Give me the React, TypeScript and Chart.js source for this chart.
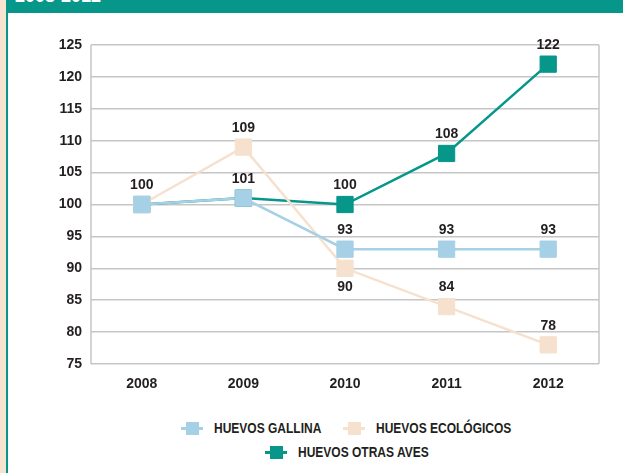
import React, { useEffect, useRef } from 'react';
import { Chart, registerables } from 'chart.js';

Chart.register(...registerables);

const years = ['2008', '2009', '2010', '2011', '2012'];
const gallina = [100, 101, 93, 93, 93];
const ecologicos = [100, 109, 90, 84, 78];
const otrasAves = [100, 101, 100, 108, 122];
const seriesNames = ['HUEVOS GALLINA', 'HUEVOS ECOLÓGICOS', 'HUEVOS OTRAS AVES'];
const yMin = 75;
const yMax = 125;
const yStep = 5;
const headerText = '2008-2012';

// which value labels are shown, and on which side of the point
const labelPlacement = [
  ['above', 'above', 'above', 'above', 'above'],
  ['none', 'above', 'below', 'above', 'above'],
  ['none', 'none', 'above', 'above', 'above'],
];

// legend item placement (marker left x, row top y) in page pixels
const legendSlots = [
  { x: 181, y: 421 },
  { x: 343, y: 421 },
  { x: 265, y: 445 },
];

const COLORS = ['#A5D0E6', '#F6E1CE', '#07968A'];
const TEXT = '#231F20';
const GRID = '#C6C6C6';
const NUM_FONT = '"Liberation Sans", Arial, sans-serif';

const labelsPlugin = {
  id: 'valueLabels',
  afterDatasetsDraw(chart: any) {
    const ctx = chart.ctx;
    ctx.save();
    ctx.font = `bold 14px ${NUM_FONT}`;
    ctx.fillStyle = TEXT;
    ctx.textAlign = 'center';
    ctx.textBaseline = 'middle';
    chart.data.datasets.forEach((ds: any, di: number) => {
      const meta = chart.getDatasetMeta(di);
      meta.data.forEach((pt: any, i: number) => {
        const pos = labelPlacement[di][i];
        if (pos === 'none') return;
        const dy = pos === 'above' ? -19 : 19;
        ctx.fillText(String(ds.data[i]), pt.x, pt.y + dy);
      });
    });
    ctx.restore();
  },
};

const framePlugin = {
  id: 'frame',
  beforeDatasetsDraw(chart: any) {
    const { ctx, chartArea } = chart;
    const { left, right, top, bottom } = chartArea;
    ctx.save();
    ctx.strokeStyle = GRID;
    ctx.lineWidth = 1.5;
    ctx.beginPath();
    ctx.moveTo(left, top);
    ctx.lineTo(left, bottom);
    ctx.moveTo(right, top);
    ctx.lineTo(right, bottom);
    ctx.stroke();
    ctx.restore();
  },
};

function LegendItem({ color, label, x, y }: { color: string; label: string; x: number; y: number }) {
  return (
    <div style={{ position: 'absolute', left: x, top: y, height: 14, display: 'flex', alignItems: 'center' }}>
      <div style={{ position: 'relative', width: 22, height: 13, marginRight: 11, flex: 'none' }}>
        <div style={{ position: 'absolute', left: 0, top: 5.5, width: 22, height: 2.5, background: color }} />
        <div style={{ position: 'absolute', left: 4.5, top: 0, width: 13, height: 13, background: color }} />
      </div>
      <span
        style={{
          display: 'inline-block',
          font: `bold 15px ${NUM_FONT}`,
          lineHeight: '14px',
          color: TEXT,
          whiteSpace: 'nowrap',
          transform: 'scaleX(0.8)',
          transformOrigin: 'left center',
        }}
      >
        {label}
      </span>
    </div>
  );
}

export default function App() {
  const canvasRef = useRef<HTMLCanvasElement | null>(null);

  useEffect(() => {
    const canvas = canvasRef.current;
    if (!canvas) return;
    const series = [gallina, ecologicos, otrasAves];
    const chart = new Chart(canvas, {
      type: 'line',
      data: {
        labels: years,
        datasets: series.map((d, i) => ({
          label: seriesNames[i],
          data: d,
          borderColor: COLORS[i],
          backgroundColor: COLORS[i],
          borderWidth: 2.5,
          pointStyle: 'rect',
          pointRadius: 11.5,
          pointBorderWidth: 1,
          pointBorderColor: COLORS[i],
          pointBackgroundColor: COLORS[i],
          tension: 0,
          fill: false,
        })),
      },
      options: {
        animation: false,
        responsive: false,
        devicePixelRatio: 1,
        layout: { padding: { top: 32, right: 24, left: 0, bottom: 0 } },
        plugins: {
          legend: { display: false },
          tooltip: { enabled: false },
        },
        scales: {
          x: {
            type: 'category',
            offset: true,
            grid: { display: false },
            border: { display: false },
            ticks: {
              color: TEXT,
              font: { family: NUM_FONT, weight: 'bold', size: 14 },
              padding: 4,
              maxRotation: 0,
            },
            afterFit(scale: any) {
              scale.height = 31;
            },
          },
          y: {
            min: yMin,
            max: yMax,
            grid: { color: GRID, lineWidth: 1.5, drawTicks: false },
            border: { display: false },
            ticks: {
              stepSize: yStep,
              color: TEXT,
              font: { family: NUM_FONT, weight: 'bold', size: 14 },
              padding: 9,
            },
            afterFit(scale: any) {
              scale.width = 83;
            },
          },
        },
      } as any,
      plugins: [framePlugin, labelsPlugin],
    });
    return () => chart.destroy();
  }, []);

  return (
    <div style={{ position: 'fixed', left: 0, top: 0, width: 623, height: 473, background: '#FFFFFF', overflow: 'hidden' }}>
      <div style={{ position: 'absolute', left: 0, top: 0, width: 6, height: 473, background: '#F7E4D0' }} />
      <div style={{ position: 'absolute', left: 6, top: 0, width: 2, height: 473, background: '#07968A' }} />
      <div style={{ position: 'absolute', left: 6, top: 0, width: 617, height: 13, background: '#07968A', overflow: 'hidden' }}>
        <span style={{ position: 'absolute', left: 9, top: -12.7, font: `bold 18px ${NUM_FONT}`, lineHeight: '18px', color: '#FFFFFF', whiteSpace: 'nowrap' }}>{headerText}</span>
      </div>
      <canvas ref={canvasRef} width={615} height={382} style={{ position: 'absolute', left: 8, top: 13, width: 615, height: 382 }} />
      {seriesNames.map((name, i) => (
        <LegendItem key={name} color={COLORS[i]} label={name} x={legendSlots[i].x} y={legendSlots[i].y} />
      ))}
    </div>
  );
}
